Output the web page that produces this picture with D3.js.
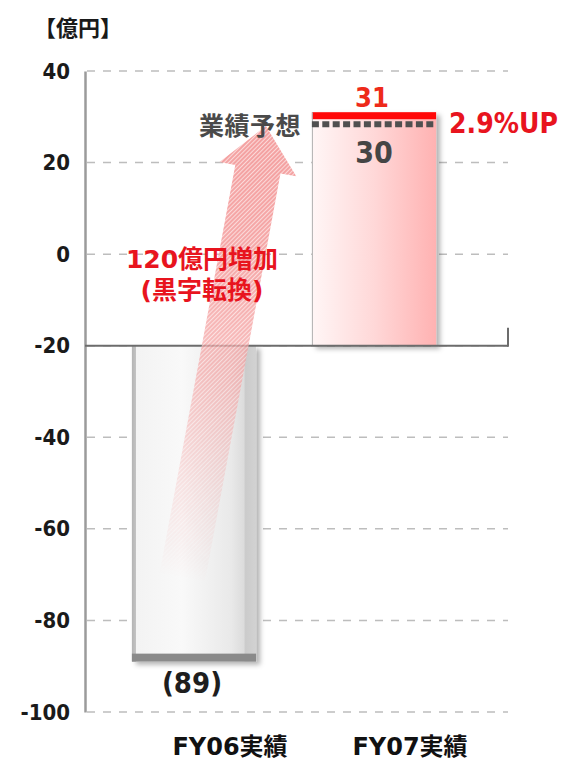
<!DOCTYPE html>
<html>
<head>
<meta charset="utf-8">
<script src="https://cdn.jsdelivr.net/npm/d3@7"></script>
<style>
  body { margin: 0; background: #fff; }
  svg { display: block; }
</style>
</head>
<body>
<svg id="chart" width="578" height="763"></svg>
<script>
// Ordinary income, 100 million yen
const categories = ["FY06実績", "FY07実績"];
const actualValues = [-89, 31];
const forecastValues = [null, 30];
const yTicks = [40, 20, 0, -20, -40, -60, -80, -100];
const baseValue = -20;
const valueLabels = ["(89)", "31"];
const forecastValueLabel = "30";
const forecastLabel = "業績予想";
const growthLabel = "2.9%UP";
const changeLabels = ["120億円増加", "(黒字転換)"];
const unitLabel = "【億円】";
// annotation arrow from the FY06 loss up to the FY07 forecast level
const arrowFrom = -71;
const arrowTo = 28;

const svg = d3.select("#chart");
const defs = svg.append("defs");

const condensed = "'DejaVu Sans Condensed', 'DejaVu Sans', sans-serif";
const gothic = "'DejaVu Sans', 'Noto Sans CJK JP', sans-serif";
const cjk = "'Noto Sans CJK JP', sans-serif";

const y = d3.scaleLinear().domain([-100, 40]).range([712, 71]);
const x = d3.scaleBand().domain(categories).range([104, 464])
  .paddingInner(0.31).paddingOuter(0.155);
const bw = x.bandwidth();
const plotLeft = 85, plotRight = 508;

// ---- definitions: gradients, shadow, hatch, fade mask
const gray = defs.append("linearGradient").attr("id", "grayGrad");
[[0, "#b4b4b4"], [0.03, "#c2c2c2"], [0.035, "#f3f3f3"], [0.4, "#f9f9f9"],
 [0.8, "#e9e9e9"], [0.9, "#dcdcdc"], [0.915, "#cbcbcb"], [1, "#d2d2d2"]]
  .forEach(([o, c]) => gray.append("stop").attr("offset", o).attr("stop-color", c));

const pink = defs.append("linearGradient").attr("id", "pinkGrad");
[[0, "#fff6f6"], [0.5, "#ffd8d8"], [1, "#ffb2b2"]]
  .forEach(([o, c]) => pink.append("stop").attr("offset", o).attr("stop-color", c));

const shadow = defs.append("filter").attr("id", "shadow")
  .attr("x", "-10%").attr("y", "-5%").attr("width", "130%").attr("height", "115%");
shadow.append("feDropShadow").attr("dx", 4).attr("dy", 3)
  .attr("stdDeviation", 2.5).attr("flood-color", "#000").attr("flood-opacity", 0.3);

const hatch = defs.append("pattern").attr("id", "hatch")
  .attr("width", 3).attr("height", 3).attr("patternUnits", "userSpaceOnUse")
  .attr("patternTransform", "rotate(45)");
hatch.append("rect").attr("width", 3).attr("height", 3).attr("fill", "#f4a0a0");
hatch.append("rect").attr("width", 1).attr("height", 3).attr("fill", "#fbd8d8");

// ---- gridlines
svg.append("g").selectAll("line").data(yTicks).join("line")
  .attr("x1", plotLeft + 2).attr("x2", plotRight)
  .attr("y1", d => y(d)).attr("y2", d => y(d))
  .attr("stroke", "#bdbdbd").attr("stroke-width", 1.5)
  .attr("stroke-dasharray", "8,8");

// ---- y axis
const yAxis = svg.append("g").attr("transform", `translate(${plotLeft},0)`)
  .call(d3.axisLeft(y).tickValues(yTicks).tickFormat(d => String(d))
    .tickSize(0).tickPadding(15));
yAxis.select(".domain").attr("stroke", "#9b9b9b").attr("stroke-width", 2.5);
yAxis.selectAll("text")
  .attr("font-family", condensed).attr("font-weight", "bold")
  .attr("font-size", 22).attr("fill", "#1a1a1a");

// ---- bars
const bars = categories.map((c, i) => ({ c, v: actualValues[i], f: forecastValues[i] }));

svg.append("g").selectAll("rect").data(bars).join("rect")
  .attr("x", d => x(d.c)).attr("width", bw)
  .attr("y", d => y(Math.max(d.v, baseValue)))
  .attr("height", d => Math.abs(y(d.v) - y(baseValue)))
  .attr("fill", d => d.v < baseValue ? "url(#grayGrad)" : "url(#pinkGrad)")
  .attr("filter", "url(#shadow)");

// edge strip at the value end of each bar
svg.append("g").selectAll("rect").data(bars).join("rect")
  .attr("x", d => x(d.c)).attr("width", bw)
  .attr("y", d => d.v < baseValue ? y(d.v) - 8 : y(d.v))
  .attr("height", d => d.v < baseValue ? 8 : 7)
  .attr("fill", d => d.v < baseValue ? "#8a8a8a" : "#ff0808");

// left border of the positive bar
svg.append("g").selectAll("line").data(bars.filter(d => d.v > baseValue)).join("line")
  .attr("x1", d => x(d.c) + 0.5).attr("x2", d => x(d.c) + 0.5)
  .attr("y1", d => y(d.v)).attr("y2", y(baseValue))
  .attr("stroke", "#b0b0b0").attr("stroke-width", 1);

// forecast dotted line
svg.append("g").selectAll("line").data(bars.filter(d => d.f !== null)).join("line")
  .attr("x1", d => x(d.c)).attr("x2", d => x(d.c) + bw)
  .attr("y1", d => y(d.f) + 7.5).attr("y2", d => y(d.f) + 7.5)
  .attr("stroke", "#505050").attr("stroke-width", 6)
  .attr("stroke-dasharray", "7,3.4");

// ---- base line at -20 with end tick
svg.append("line")
  .attr("x1", plotLeft).attr("x2", plotRight)
  .attr("y1", y(baseValue)).attr("y2", y(baseValue))
  .attr("stroke", "#6c6c6c").attr("stroke-width", 2);
svg.append("line")
  .attr("x1", plotRight).attr("x2", plotRight)
  .attr("y1", y(baseValue) - 18).attr("y2", y(baseValue) + 1)
  .attr("stroke", "#6c6c6c").attr("stroke-width", 2);

// ---- rising arrow
const tail = [x(categories[0]) + 50, y(arrowFrom)];
const tip = [x(categories[1]) - 46, y(arrowTo)];
const len = Math.hypot(tip[0] - tail[0], tip[1] - tail[1]);
const u = [(tip[0] - tail[0]) / len, (tip[1] - tail[1]) / len];
const n = [-u[1], u[0]];
const headLen = 44, headHalf = 39, shaftHalf = 23;
const neck = [tip[0] - u[0] * headLen, tip[1] - u[1] * headLen];
const off = (p, k) => [p[0] + n[0] * k, p[1] + n[1] * k];
const arrowPts = [off(tail, -shaftHalf), off(neck, -shaftHalf), off(neck, -headHalf),
  tip, off(neck, headHalf), off(neck, shaftHalf), off(tail, shaftHalf)];

const fade = defs.append("linearGradient").attr("id", "fadeGrad")
  .attr("gradientUnits", "userSpaceOnUse")
  .attr("x1", tip[0]).attr("y1", tip[1]).attr("x2", tail[0]).attr("y2", tail[1]);
[[0, 1], [0.3, 0.9], [0.55, 0.65], [0.8, 0.25], [1, 0]]
  .forEach(([o, a]) => fade.append("stop").attr("offset", o)
    .attr("stop-color", "#fff").attr("stop-opacity", a));
defs.append("mask").attr("id", "fadeMask").attr("maskUnits", "userSpaceOnUse")
  .attr("x", 0).attr("y", 0).attr("width", 578).attr("height", 763)
  .append("rect").attr("width", 578).attr("height", 763).attr("fill", "url(#fadeGrad)");

svg.append("path")
  .attr("d", d3.line()(arrowPts) + "Z")
  .attr("fill", "url(#hatch)")
  .attr("mask", "url(#fadeMask)");

// ---- texts
svg.append("text").text(unitLabel)
  .attr("x", 34).attr("y", 36)
  .attr("font-family", cjk).attr("font-weight", "bold")
  .attr("font-size", 22).attr("fill", "#1a1a1a");

// value labels
svg.append("text").text(valueLabels[0])
  .attr("x", x(categories[0]) + bw / 2 - 2).attr("y", y(actualValues[0]) + 31)
  .attr("text-anchor", "middle")
  .attr("font-family", condensed).attr("font-weight", "bold")
  .attr("font-size", 29).attr("fill", "#1e1e1e");

svg.append("text").text(valueLabels[1])
  .attr("x", x(categories[1]) + bw / 2 - 2).attr("y", y(actualValues[1]) - 5)
  .attr("text-anchor", "middle")
  .attr("font-family", condensed).attr("font-weight", "bold")
  .attr("font-size", 27).attr("fill", "#ee2a1a");

svg.append("text").text(forecastValueLabel)
  .attr("x", x(categories[1]) + bw / 2).attr("y", y(forecastValues[1]) + 46)
  .attr("text-anchor", "middle")
  .attr("font-family", condensed).attr("font-weight", "bold")
  .attr("font-size", 30).attr("fill", "#454545");

svg.append("text").text(forecastLabel)
  .attr("x", x(categories[1]) - 11).attr("y", y(forecastValues[1]) + 18)
  .attr("text-anchor", "end")
  .attr("font-family", cjk).attr("font-weight", "bold")
  .attr("font-size", 25).attr("letter-spacing", 0.5).attr("fill", "#4a4a4a");

svg.append("text").text(growthLabel)
  .attr("x", x(categories[1]) + bw + 13).attr("y", y(forecastValues[1]) + 16)
  .attr("font-family", condensed).attr("font-weight", "bold")
  .attr("font-size", 28).attr("fill", "#e8141e");

svg.append("g").selectAll("text").data(changeLabels).join("text")
  .text(d => d)
  .attr("x", 202).attr("y", (d, i) => y(0) + 14 + i * 31)
  .attr("text-anchor", "middle")
  .attr("font-family", gothic).attr("font-weight", "bold")
  .attr("font-size", 25).attr("fill", "#e8141e");

// category labels
svg.append("g").selectAll("text").data(categories).join("text")
  .text(d => d)
  .attr("x", d => x(d) + bw / 2 + 36).attr("y", 755)
  .attr("text-anchor", "middle")
  .attr("font-family", gothic).attr("font-weight", "bold")
  .attr("font-size", 24).attr("fill", "#111");
</script>
</body>
</html>
